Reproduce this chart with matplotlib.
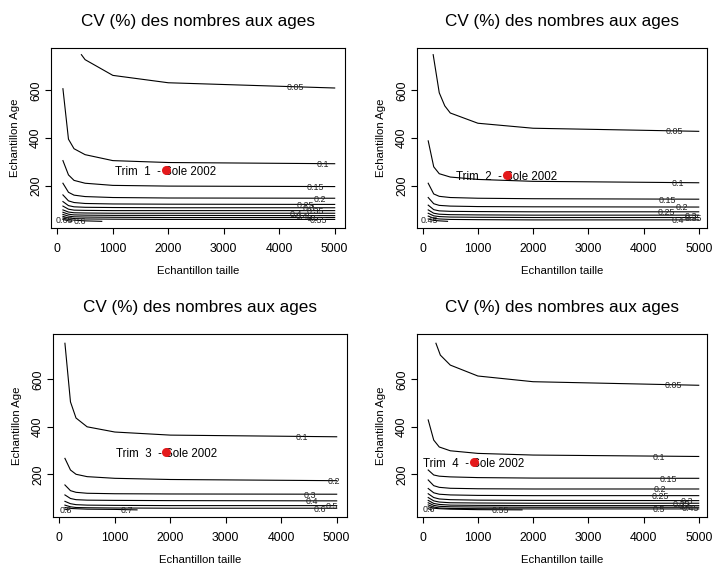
import numpy as np
import matplotlib
matplotlib.use("Agg")
import matplotlib.pyplot as plt

plt.rcParams['font.family'] = ['Liberation Sans', 'DejaVu Sans']

TITLE = "CV (%) des nombres aux ages"
XLABEL = "Echantillon taille"
YLABEL = "Echantillon Age"
x_ticks = [0, 1000, 2000, 3000, 4000, 5000]
y_ticks = [200, 400, 600]

# sample-size nodes shared by the full-width contour lines
taille = [100, 200, 300, 500, 1000, 2000, 5000]

# ---- Trimestre 1 ----
t1_levels = [0.05, 0.1, 0.15, 0.2, 0.25, 0.3, 0.35, 0.4, 0.45, 0.5, 0.55, 0.6, 0.65]
t1_x = [[433, 500, 1000, 2000, 5000], taille, taille, taille, taille, taille, taille,
        taille, taille, taille, taille, [100, 200, 300, 500, 800], [100, 200, 260]]
t1_y = [[750, 729, 663, 632, 610],
        [607, 395, 355, 330, 305, 297, 292],
        [305, 245, 222, 210, 201, 198, 196],
        [210, 172, 160, 154, 150, 148, 147],
        [161, 136, 129, 125, 123, 122, 121],
        [133, 116, 111, 109, 108, 107, 107],
        [114, 101, 97, 96, 95, 95, 95],
        [98, 89, 86, 85, 84, 84, 84],
        [88, 80, 77, 76, 75, 75, 74],
        [79, 72, 69, 68, 67, 66, 66],
        [71, 64, 62, 60, 59, 58, 58],
        [64, 58, 55, 52, 50],
        [58, 52, 50]]
t1_label_x = [4300, 4780, 4650, 4740, 4470, 4530, 4650, 4300, 4450, 4600, 4700, 400, 120]
t1_point = [1950, 265]

# ---- Trimestre 2 ----
t2_levels = [0.05, 0.1, 0.15, 0.2, 0.25, 0.3, 0.35, 0.4, 0.45]
t2_x = [[190, 300, 400, 500, 1000, 2000, 5000], taille, taille, taille, taille,
        taille, taille, taille, [100, 200, 300, 450]]
t2_y = [[750, 590, 535, 505, 462, 441, 428],
        [388, 279, 250, 236, 226, 218, 212],
        [210, 165, 155, 150, 147, 145, 143],
        [150, 124, 117, 114, 112, 111, 110],
        [118, 99, 94, 92, 91, 90, 90],
        [98, 84, 80, 78, 77, 76, 76],
        [84, 73, 70, 68, 67, 66, 66],
        [72, 63, 60, 58, 57, 56, 56],
        [60, 54, 52, 50]]
t2_label_x = [4550, 4620, 4440, 4700, 4410, 4860, 4900, 4620, 120]
t2_point = [1520, 245]

# ---- Trimestre 3 ----
t3_levels = [0.1, 0.2, 0.3, 0.4, 0.5, 0.6, 0.7, 0.8]
t3_x = [taille, taille, taille, taille, taille, taille,
        [100, 200, 500, 1000, 1400], [100, 160]]
t3_y = [[752, 505, 437, 400, 378, 365, 358],
        [267, 218, 200, 190, 183, 178, 173],
        [155, 131, 124, 120, 118, 117, 116],
        [113, 98, 93, 91, 90, 89, 88],
        [86, 76, 72, 70, 69, 68, 68],
        [70, 63, 60, 59, 58, 57, 57],
        [60, 56, 53, 52, 50],
        [53, 50]]
t3_label_x = [4370, 4950, 4520, 4550, 4910, 4700, 1220, 110]
t3_point = [1925, 292]

# ---- Trimestre 4 ----
t4_levels = [0.05, 0.1, 0.15, 0.2, 0.25, 0.3, 0.35, 0.4, 0.45, 0.5, 0.55, 0.6]
t4_x = [[240, 320, 500, 1000, 2000, 5000], taille, taille, taille, taille, taille,
        taille, taille, taille, taille, [100, 200, 300, 500, 1000, 1800], [100, 160]]
t4_y = [[752, 702, 660, 614, 590, 575],
        [429, 344, 315, 299, 288, 281, 275],
        [218, 197, 192, 189, 186, 184, 183],
        [176, 152, 145, 141, 139, 138, 138],
        [140, 122, 116, 113, 111, 110, 110],
        [118, 102, 96, 93, 91, 90, 89],
        [102, 88, 83, 80, 79, 78, 78],
        [90, 77, 73, 70, 69, 68, 68],
        [80, 69, 65, 63, 62, 61, 61],
        [71, 62, 58, 56, 55, 54, 54],
        [63, 57, 55, 53, 51, 50],
        [55, 50]]
t4_label_x = [4540, 4270, 4450, 4300, 4300, 4780, 4690, 4750, 4840, 4270, 1400, 110]
t4_point = [930, 252]

W, H = 714, 571
fig = plt.figure(figsize=(W / 100, H / 100), dpi=100)

# panel boxes in pixels: left, top, right, bottom
boxes = [(51, 48, 345, 228), (417, 48, 707, 228),
         (53, 334, 347, 517), (417, 334, 707, 517)]
ylims = [(22, 778), (22, 778), (20, 791), (20, 791)]
xlims = [(-115, 5186), (-103, 5150), (-115, 5186), (-103, 5150)]

panels = [
    (1, t1_levels, t1_x, t1_y, t1_label_x, t1_point),
    (2, t2_levels, t2_x, t2_y, t2_label_x, t2_point),
    (3, t3_levels, t3_x, t3_y, t3_label_x, t3_point),
    (4, t4_levels, t4_x, t4_y, t4_label_x, t4_point),
]

for (trim, levels, xs, ys, lab_x, pt), box, yl, xl in zip(panels, boxes, ylims, xlims):
    l, t, r, b = box
    ax = fig.add_axes([l / W, 1 - b / H, (r - l) / W, (b - t) / H])
    for lev, x, y, lx in zip(levels, xs, ys, lab_x):
        ax.plot(x, y, color='black', lw=0.8, solid_joinstyle='round')
        ly = np.interp(lx, x, y)
        ax.text(lx, ly - 4, f"{lev:g}", fontsize=6.4, ha='center', va='center',
                color='#222222')
    ax.plot(pt[0], pt[1], 'o', color='#e41a1c', markersize=6.5,
            markeredgewidth=0, zorder=5)
    ax.text(pt[0], pt[1] - 8, f"Trim  {trim}  - Sole 2002", fontsize=8.3,
            ha='center', va='center', zorder=4)
    ax.set_xlim(*xl)
    ax.set_ylim(*yl)
    ax.set_xticks(x_ticks)
    ax.set_yticks(y_ticks)
    ax.set_yticklabels([str(v) for v in y_ticks], rotation=90, va='center')
    ax.tick_params(direction='out', length=4, width=0.8, labelsize=8.8,
                   colors='black')
    ax.tick_params(axis='x', pad=7)
    ax.tick_params(axis='y', pad=2.5)
    for s in ax.spines.values():
        s.set_linewidth(0.8)
    ax.set_title(TITLE, fontsize=12.3, pad=16)
    ax.set_xlabel(XLABEL, fontsize=8.2, labelpad=8)
    ax.set_ylabel(YLABEL, fontsize=8.2, labelpad=7)

fig.savefig("out.png", dpi=100)
